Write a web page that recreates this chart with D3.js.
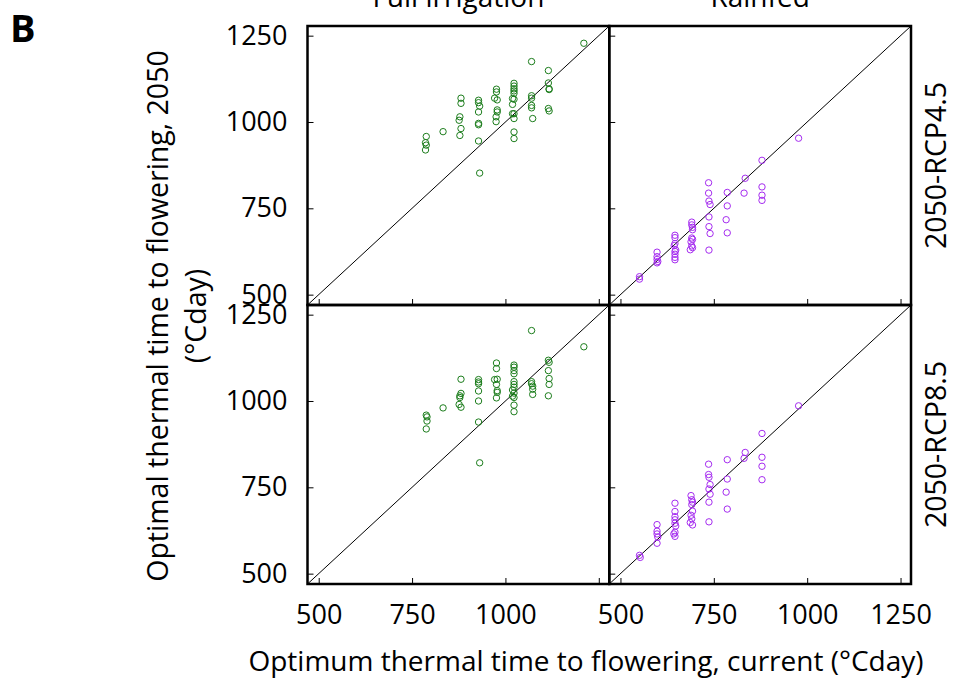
<!DOCTYPE html>
<html>
<head>
<meta charset="utf-8">
<script src="https://cdn.jsdelivr.net/npm/d3@7"></script>
<style>
  html, body { margin: 0; padding: 0; background: #fff; }
  svg { display: block; }
  text { font-family: "Open Sans", sans-serif; fill: #000; }
</style>
</head>
<body>
<script>
// ---- data ----
const columns = ["Full irrigation", "Rainfed"];
const rows = ["2050-RCP4.5", "2050-RCP8.5"];
const tickValues = [500, 750, 1000, 1250];
const axisDomain = [470, 1278];

const fullIrrigationRcp45 = [
  [1210,1228],[1070,1175],[1115,1149],[1115,1113],[1117,1096],[1117,1094],[1115,1039],[1117,1032],
  [1070,1076],[1070,1069],[1070,1048],[1070,1041],[1073,1010],
  [1023,1112],[1023,1104],[1023,1096],[1023,1090],[1023,1083],[1019,1068],[1023,1066],[1019,1051],[1019,1024],[1023,1024],[1023,1010],[1023,971],[1023,952],
  [976,1095],[976,1087],[971,1069],[978,1064],[978,1035],[978,1029],[975,1015],[975,1001],
  [928,1063],[928,1056],[931,1046],[928,1029],[928,996],[928,992],[928,945],[931,852],
  [881,1069],[881,1054],[878,1015],[876,1005],[881,981],[878,961],
  [833,972],
  [788,958],[786,940],[788,933],[786,919]
];
const rainfedRcp45 = [
  [977,953],[879,889],[879,812],[879,788],[879,773],[834,837],[831,794],[786,796],[786,757],[783,717],[786,679],
  [736,824],[736,794],[737,771],[740,761],[737,725],[737,697],[740,677],[737,629],
  [691,710],[691,702],[693,695],[693,688],[691,664],[693,660],[689,653],[691,641],[693,636],[687,630],
  [646,672],[646,665],[646,648],[644,642],[648,629],[646,625],[646,617],[646,608],[646,601],
  [598,623],[598,610],[598,602],[600,596],[598,592],
  [551,552],[551,545]
];
const fullIrrigationRcp85 = [
  [1210,1157],[1070,1204],
  [1115,1118],[1117,1112],[1115,1088],[1117,1065],[1117,1048],[1115,1015],
  [1070,1056],[1070,1050],[1073,1043],[1073,1034],[1073,1019],
  [1023,1104],[1023,1098],[1023,1088],[1023,1079],[1023,1056],[1023,1048],[1023,1040],[1019,1032],[1023,1023],[1019,1014],[1023,1010],[1023,988],[1023,969],
  [976,1110],[976,1094],[971,1062],[978,1063],[976,1048],[978,1030],[978,1025],[976,1009],
  [928,1062],[928,1055],[928,1050],[928,1029],[928,1000],[928,939],[931,821],
  [881,1063],[881,1022],[878,1015],[878,1010],[876,990],[881,982],
  [833,980],
  [788,959],[790,954],[790,942],[788,919]
];
const rainfedRcp85 = [
  [977,986],[879,906],[879,837],[879,811],[879,772],[834,851],[831,834],[786,830],[786,774],[783,736],[786,687],
  [736,817],[736,787],[737,779],[740,758],[737,745],[740,730],[737,707],[737,650],
  [689,726],[691,714],[693,707],[691,700],[693,681],[689,669],[691,659],[687,648],[693,641],
  [646,704],[646,680],[646,665],[646,656],[646,646],[648,638],[646,620],[643,615],[646,608],
  [598,642],[598,623],[598,615],[600,606],[598,588],
  [551,553],[553,547]
];
const colors = ["#1c7d1c", "#a52cf0"];

// ---- layout ----
const W = 954, H = 679;
const plotLeft = 307.5, plotTop = 26, pw = 301.75, ph = 279;
const svg = d3.select("body").append("svg").attr("width", W).attr("height", H);

const panels = [
  {r:0, c:0, data: fullIrrigationRcp45},
  {r:0, c:1, data: rainfedRcp45},
  {r:1, c:0, data: fullIrrigationRcp85},
  {r:1, c:1, data: rainfedRcp85}
];

const defs = svg.append("defs");

panels.forEach((p, i) => {
  const x0 = plotLeft + p.c * pw, y0 = plotTop + p.r * ph;
  const x = d3.scaleLinear().domain(axisDomain).range([0, pw]);
  const y = d3.scaleLinear().domain(axisDomain).range([ph, 0]);
  const g = svg.append("g").attr("transform", `translate(${x0},${y0})`);

  defs.append("clipPath").attr("id", "clip" + i)
    .append("rect").attr("width", pw).attr("height", ph);

  // 1:1 line
  g.append("line").attr("clip-path", `url(#clip${i})`)
    .attr("x1", x(axisDomain[0])).attr("y1", y(axisDomain[0]))
    .attr("x2", x(axisDomain[1])).attr("y2", y(axisDomain[1]))
    .attr("stroke", "#000").attr("stroke-width", 1);

  // points
  g.append("g").selectAll("circle").data(p.data).join("circle")
    .attr("cx", d => x(d[0])).attr("cy", d => y(d[1])).attr("r", 3.2)
    .attr("fill", "none").attr("stroke", colors[p.c]).attr("stroke-width", 1);

  // inward ticks (left and bottom)
  const yAxis = d3.axisLeft(y).tickValues(tickValues).tickSize(-6).tickPadding(20)
    .tickFormat(p.c === 0 ? d3.format("d") : () => "");
  const ya = g.append("g").call(yAxis);
  ya.select(".domain").remove();
  ya.selectAll("text").style("font-size", "27px").attr("fill", "#000");

  const showX = p.r === 1;
  const xAxis = d3.axisBottom(x).tickValues(tickValues).tickSize(-6).tickPadding(21)
    .tickFormat(d => (showX && !(p.c === 0 && d === 1250)) ? d : "");
  const xa = g.append("g").attr("transform", `translate(0,${ph})`).call(xAxis);
  xa.select(".domain").remove();
  xa.selectAll("text").style("font-size", "27px").attr("fill", "#000");
  [ya, xa].forEach(a => a.selectAll("line").attr("stroke", "#000").attr("stroke-width", 1));

  // frame
  g.append("rect").attr("width", pw).attr("height", ph)
    .attr("fill", "none").attr("stroke", "#000").attr("stroke-width", 2.5);
});

// column titles
columns.forEach((t, c) => {
  svg.append("text").attr("x", plotLeft + c * pw + pw / 2).attr("y", 7)
    .attr("text-anchor", "middle").style("font-size", "28px").text(t);
});
// row labels
rows.forEach((t, r) => {
  const cy = plotTop + r * ph + ph / 2;
  svg.append("text").attr("transform", `translate(946,${cy}) rotate(-90)`)
    .attr("text-anchor", "middle").style("font-size", "28.5px").text(t);
});

// axis titles
svg.append("text").attr("transform", "translate(168,316) rotate(-90)")
  .attr("text-anchor", "middle").style("font-size", "28.5px")
  .text("Optimal thermal time to flowering, 2050");
svg.append("text").attr("transform", "translate(206,316) rotate(-90)")
  .attr("text-anchor", "middle").style("font-size", "28.5px")
  .text("(°Cday)");
svg.append("text").attr("x", 586).attr("y", 671)
  .attr("text-anchor", "middle").style("font-size", "28px")
  .text("Optimum thermal time to flowering, current (°Cday)");

// panel letter
svg.append("text").attr("x", 10).attr("y", 42)
  .style("font-size", "38px").style("font-weight", "bold").text("B");
</script>
</body>
</html>
